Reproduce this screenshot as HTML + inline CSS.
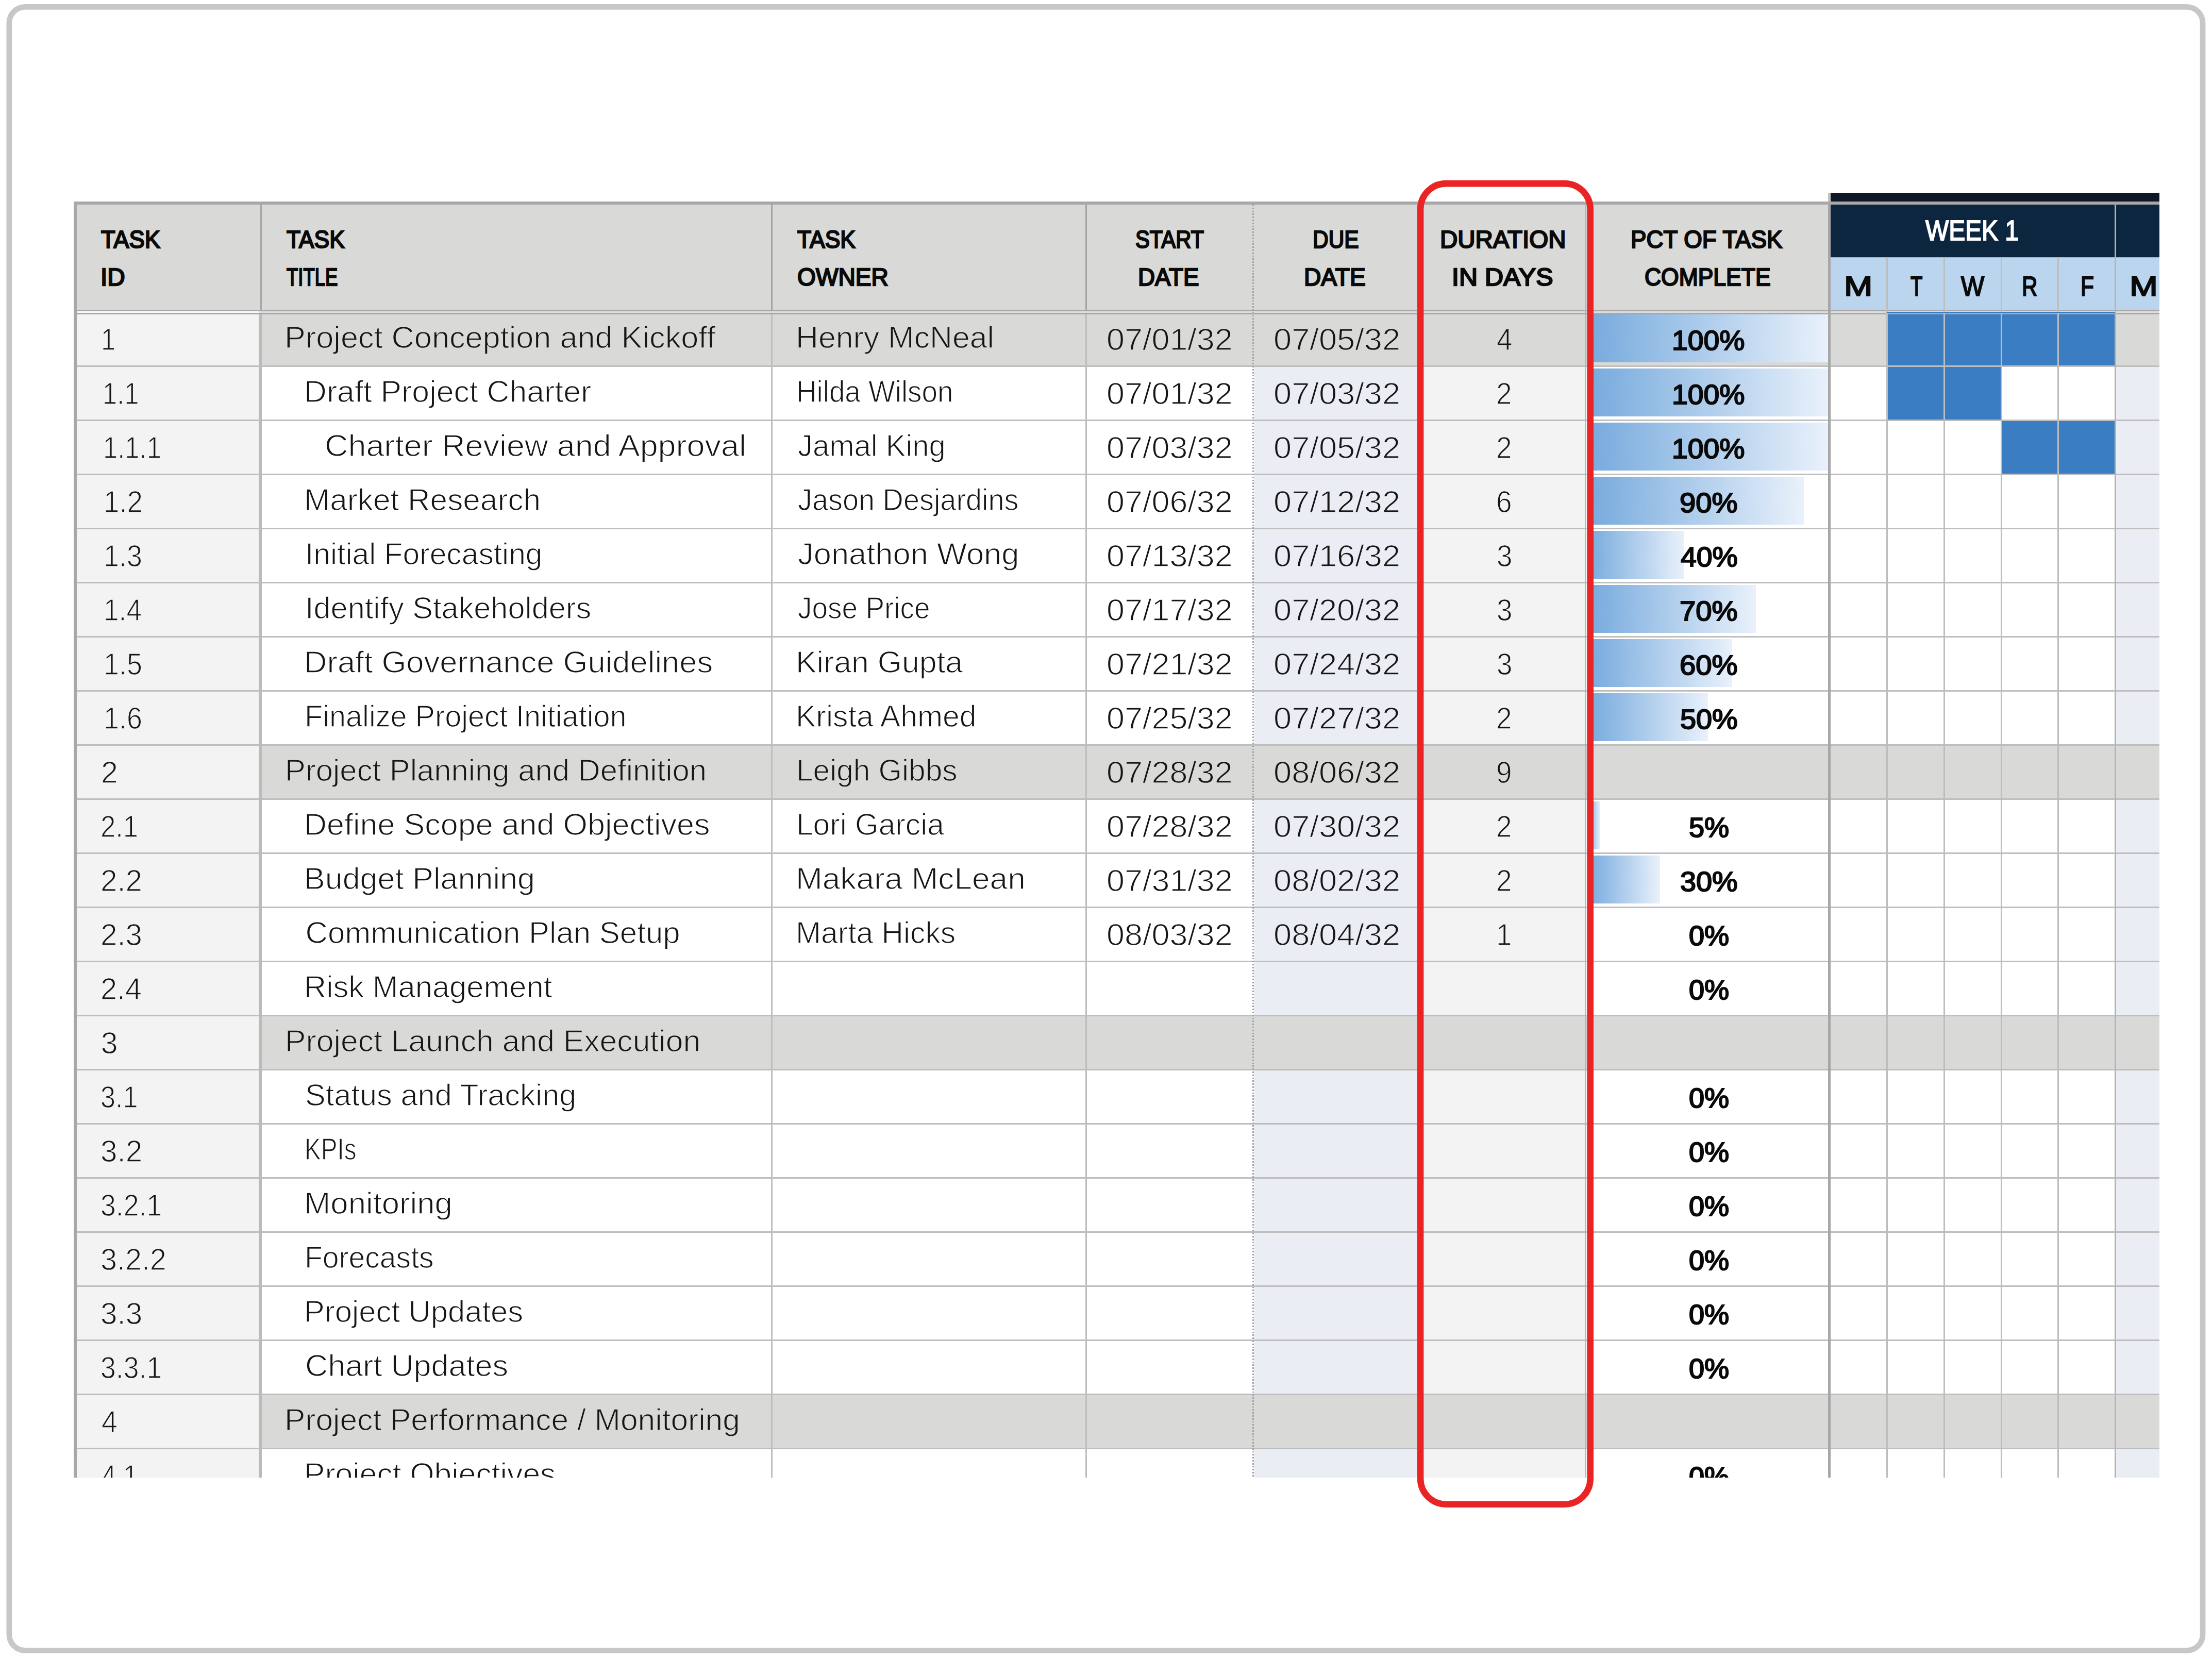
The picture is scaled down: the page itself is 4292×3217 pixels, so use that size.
<!DOCTYPE html>
<html lang="en"><head><meta charset="utf-8"><title>Gantt chart – Duration in days</title>
<style>
html,body{margin:0;padding:0;background:#fff}
body{width:4292px;height:3217px;position:relative;overflow:hidden;font-family:"Liberation Sans",sans-serif}
.clip{position:absolute;left:143.4px;top:374.2px;width:4046.9px;height:2493.0px;overflow:hidden}
.clip i{position:absolute;display:block}
.clip span{position:absolute;white-space:nowrap;transform-origin:0 0;line-height:1}
.ov{position:absolute;left:0;top:0;display:block}
</style></head><body>
<svg class="ov" width="4292" height="3217" viewBox="0 0 4292 3217"><rect x="17.85" y="13.45" width="4256.2" height="3189" rx="31" ry="31" fill="none" stroke="#c8c7c5" stroke-width="10.7"/></svg>
<div class="clip">
<i style="left:6.0px;top:23.2px;width:3397.6px;height:204.6px;background:#d9d9d8"></i>
<i style="left:3408.9px;top:0.0px;width:638.0px;height:17.0px;background:#0f1726"></i>
<i style="left:3408.9px;top:23.1px;width:638.0px;height:102.3px;background:#0d2640"></i>
<i style="left:3408.9px;top:125.4px;width:638.0px;height:102.4px;background:#bbd5ef"></i>
<i style="left:6.0px;top:235.3px;width:352.9px;height:100.4px;background:#f3f3f3"></i>
<i style="left:364.4px;top:235.3px;width:3682.5px;height:100.4px;background:#d9d9d8"></i>
<i style="left:6.0px;top:335.7px;width:352.9px;height:105.0px;background:#f3f3f3"></i>
<i style="left:2289.3px;top:335.7px;width:324.8px;height:105.0px;background:#eaedf3"></i>
<i style="left:2614.1px;top:335.7px;width:320.8px;height:105.0px;background:#f3f3f3"></i>
<i style="left:3961.4px;top:335.7px;width:85.5px;height:105.0px;background:#eaedf3"></i>
<i style="left:6.0px;top:440.7px;width:352.9px;height:105.0px;background:#f3f3f3"></i>
<i style="left:2289.3px;top:440.7px;width:324.8px;height:105.0px;background:#eaedf3"></i>
<i style="left:2614.1px;top:440.7px;width:320.8px;height:105.0px;background:#f3f3f3"></i>
<i style="left:3961.4px;top:440.7px;width:85.5px;height:105.0px;background:#eaedf3"></i>
<i style="left:6.0px;top:545.7px;width:352.9px;height:105.0px;background:#f3f3f3"></i>
<i style="left:2289.3px;top:545.7px;width:324.8px;height:105.0px;background:#eaedf3"></i>
<i style="left:2614.1px;top:545.7px;width:320.8px;height:105.0px;background:#f3f3f3"></i>
<i style="left:3961.4px;top:545.7px;width:85.5px;height:105.0px;background:#eaedf3"></i>
<i style="left:6.0px;top:650.7px;width:352.9px;height:105.0px;background:#f3f3f3"></i>
<i style="left:2289.3px;top:650.7px;width:324.8px;height:105.0px;background:#eaedf3"></i>
<i style="left:2614.1px;top:650.7px;width:320.8px;height:105.0px;background:#f3f3f3"></i>
<i style="left:3961.4px;top:650.7px;width:85.5px;height:105.0px;background:#eaedf3"></i>
<i style="left:6.0px;top:755.7px;width:352.9px;height:105.0px;background:#f3f3f3"></i>
<i style="left:2289.3px;top:755.7px;width:324.8px;height:105.0px;background:#eaedf3"></i>
<i style="left:2614.1px;top:755.7px;width:320.8px;height:105.0px;background:#f3f3f3"></i>
<i style="left:3961.4px;top:755.7px;width:85.5px;height:105.0px;background:#eaedf3"></i>
<i style="left:6.0px;top:860.7px;width:352.9px;height:105.0px;background:#f3f3f3"></i>
<i style="left:2289.3px;top:860.7px;width:324.8px;height:105.0px;background:#eaedf3"></i>
<i style="left:2614.1px;top:860.7px;width:320.8px;height:105.0px;background:#f3f3f3"></i>
<i style="left:3961.4px;top:860.7px;width:85.5px;height:105.0px;background:#eaedf3"></i>
<i style="left:6.0px;top:965.7px;width:352.9px;height:105.0px;background:#f3f3f3"></i>
<i style="left:2289.3px;top:965.7px;width:324.8px;height:105.0px;background:#eaedf3"></i>
<i style="left:2614.1px;top:965.7px;width:320.8px;height:105.0px;background:#f3f3f3"></i>
<i style="left:3961.4px;top:965.7px;width:85.5px;height:105.0px;background:#eaedf3"></i>
<i style="left:6.0px;top:1070.7px;width:352.9px;height:105.0px;background:#f3f3f3"></i>
<i style="left:364.4px;top:1070.7px;width:3682.5px;height:105.0px;background:#d9d9d8"></i>
<i style="left:6.0px;top:1175.7px;width:352.9px;height:105.0px;background:#f3f3f3"></i>
<i style="left:2289.3px;top:1175.7px;width:324.8px;height:105.0px;background:#eaedf3"></i>
<i style="left:2614.1px;top:1175.7px;width:320.8px;height:105.0px;background:#f3f3f3"></i>
<i style="left:3961.4px;top:1175.7px;width:85.5px;height:105.0px;background:#eaedf3"></i>
<i style="left:6.0px;top:1280.7px;width:352.9px;height:105.0px;background:#f3f3f3"></i>
<i style="left:2289.3px;top:1280.7px;width:324.8px;height:105.0px;background:#eaedf3"></i>
<i style="left:2614.1px;top:1280.7px;width:320.8px;height:105.0px;background:#f3f3f3"></i>
<i style="left:3961.4px;top:1280.7px;width:85.5px;height:105.0px;background:#eaedf3"></i>
<i style="left:6.0px;top:1385.7px;width:352.9px;height:105.0px;background:#f3f3f3"></i>
<i style="left:2289.3px;top:1385.7px;width:324.8px;height:105.0px;background:#eaedf3"></i>
<i style="left:2614.1px;top:1385.7px;width:320.8px;height:105.0px;background:#f3f3f3"></i>
<i style="left:3961.4px;top:1385.7px;width:85.5px;height:105.0px;background:#eaedf3"></i>
<i style="left:6.0px;top:1490.7px;width:352.9px;height:105.0px;background:#f3f3f3"></i>
<i style="left:2289.3px;top:1490.7px;width:324.8px;height:105.0px;background:#eaedf3"></i>
<i style="left:2614.1px;top:1490.7px;width:320.8px;height:105.0px;background:#f3f3f3"></i>
<i style="left:3961.4px;top:1490.7px;width:85.5px;height:105.0px;background:#eaedf3"></i>
<i style="left:6.0px;top:1595.7px;width:352.9px;height:105.0px;background:#f3f3f3"></i>
<i style="left:364.4px;top:1595.7px;width:3682.5px;height:105.0px;background:#d9d9d8"></i>
<i style="left:6.0px;top:1700.7px;width:352.9px;height:105.0px;background:#f3f3f3"></i>
<i style="left:2289.3px;top:1700.7px;width:324.8px;height:105.0px;background:#eaedf3"></i>
<i style="left:2614.1px;top:1700.7px;width:320.8px;height:105.0px;background:#f3f3f3"></i>
<i style="left:3961.4px;top:1700.7px;width:85.5px;height:105.0px;background:#eaedf3"></i>
<i style="left:6.0px;top:1805.7px;width:352.9px;height:105.0px;background:#f3f3f3"></i>
<i style="left:2289.3px;top:1805.7px;width:324.8px;height:105.0px;background:#eaedf3"></i>
<i style="left:2614.1px;top:1805.7px;width:320.8px;height:105.0px;background:#f3f3f3"></i>
<i style="left:3961.4px;top:1805.7px;width:85.5px;height:105.0px;background:#eaedf3"></i>
<i style="left:6.0px;top:1910.7px;width:352.9px;height:105.0px;background:#f3f3f3"></i>
<i style="left:2289.3px;top:1910.7px;width:324.8px;height:105.0px;background:#eaedf3"></i>
<i style="left:2614.1px;top:1910.7px;width:320.8px;height:105.0px;background:#f3f3f3"></i>
<i style="left:3961.4px;top:1910.7px;width:85.5px;height:105.0px;background:#eaedf3"></i>
<i style="left:6.0px;top:2015.7px;width:352.9px;height:105.0px;background:#f3f3f3"></i>
<i style="left:2289.3px;top:2015.7px;width:324.8px;height:105.0px;background:#eaedf3"></i>
<i style="left:2614.1px;top:2015.7px;width:320.8px;height:105.0px;background:#f3f3f3"></i>
<i style="left:3961.4px;top:2015.7px;width:85.5px;height:105.0px;background:#eaedf3"></i>
<i style="left:6.0px;top:2120.7px;width:352.9px;height:105.0px;background:#f3f3f3"></i>
<i style="left:2289.3px;top:2120.7px;width:324.8px;height:105.0px;background:#eaedf3"></i>
<i style="left:2614.1px;top:2120.7px;width:320.8px;height:105.0px;background:#f3f3f3"></i>
<i style="left:3961.4px;top:2120.7px;width:85.5px;height:105.0px;background:#eaedf3"></i>
<i style="left:6.0px;top:2225.7px;width:352.9px;height:105.0px;background:#f3f3f3"></i>
<i style="left:2289.3px;top:2225.7px;width:324.8px;height:105.0px;background:#eaedf3"></i>
<i style="left:2614.1px;top:2225.7px;width:320.8px;height:105.0px;background:#f3f3f3"></i>
<i style="left:3961.4px;top:2225.7px;width:85.5px;height:105.0px;background:#eaedf3"></i>
<i style="left:6.0px;top:2330.7px;width:352.9px;height:105.0px;background:#f3f3f3"></i>
<i style="left:364.4px;top:2330.7px;width:3682.5px;height:105.0px;background:#d9d9d8"></i>
<i style="left:6.0px;top:2435.7px;width:352.9px;height:105.0px;background:#f3f3f3"></i>
<i style="left:2289.3px;top:2435.7px;width:324.8px;height:105.0px;background:#eaedf3"></i>
<i style="left:2614.1px;top:2435.7px;width:320.8px;height:105.0px;background:#f3f3f3"></i>
<i style="left:3961.4px;top:2435.7px;width:85.5px;height:105.0px;background:#eaedf3"></i>
<i style="left:6.0px;top:229.8px;width:352.9px;height:3.2px;background:#fafafa"></i>
<i style="left:358.9px;top:229.8px;width:3688.0px;height:3.2px;background:#dddddc"></i>
<i style="left:2938.6px;top:236.0px;width:465.0px;height:92.9px;background:linear-gradient(to right,#76aadd,#e9f1fb)"></i>
<i style="left:2938.6px;top:341.0px;width:465.0px;height:92.9px;background:linear-gradient(to right,#76aadd,#e9f1fb)"></i>
<i style="left:2938.6px;top:446.0px;width:465.0px;height:92.9px;background:linear-gradient(to right,#76aadd,#e9f1fb)"></i>
<i style="left:2938.6px;top:551.0px;width:418.5px;height:92.9px;background:linear-gradient(to right,#76aadd,#e9f1fb)"></i>
<i style="left:2938.6px;top:656.0px;width:186.0px;height:92.9px;background:linear-gradient(to right,#76aadd,#e9f1fb)"></i>
<i style="left:2938.6px;top:761.0px;width:325.5px;height:92.9px;background:linear-gradient(to right,#76aadd,#e9f1fb)"></i>
<i style="left:2938.6px;top:866.0px;width:279.0px;height:92.9px;background:linear-gradient(to right,#76aadd,#e9f1fb)"></i>
<i style="left:2938.6px;top:971.0px;width:232.5px;height:92.9px;background:linear-gradient(to right,#76aadd,#e9f1fb)"></i>
<i style="left:2938.6px;top:1181.0px;width:23.2px;height:92.9px;background:linear-gradient(to right,#76aadd,#e9f1fb)"></i>
<i style="left:2938.6px;top:1286.0px;width:139.5px;height:92.9px;background:linear-gradient(to right,#76aadd,#e9f1fb)"></i>
<i style="left:3519.6px;top:235.6px;width:108.2px;height:99.2px;background:#3b7dc3"></i>
<i style="left:3630.2px;top:235.6px;width:108.4px;height:99.2px;background:#3b7dc3"></i>
<i style="left:3741.0px;top:235.6px;width:108.3px;height:99.2px;background:#3b7dc3"></i>
<i style="left:3851.7px;top:235.6px;width:108.5px;height:99.2px;background:#3b7dc3"></i>
<i style="left:3519.6px;top:337.5px;width:108.2px;height:102.3px;background:#3b7dc3"></i>
<i style="left:3630.2px;top:337.5px;width:108.4px;height:102.3px;background:#3b7dc3"></i>
<i style="left:3741.0px;top:442.5px;width:108.3px;height:102.3px;background:#3b7dc3"></i>
<i style="left:3851.7px;top:442.5px;width:108.5px;height:102.3px;background:#3b7dc3"></i>
<i style="left:6.0px;top:334.8px;width:4040.9px;height:2.8px;background:#bebebe"></i>
<i style="left:6.0px;top:439.8px;width:4040.9px;height:2.8px;background:#bebebe"></i>
<i style="left:6.0px;top:544.8px;width:4040.9px;height:2.8px;background:#bebebe"></i>
<i style="left:6.0px;top:649.9px;width:4040.9px;height:2.8px;background:#bebebe"></i>
<i style="left:6.0px;top:754.9px;width:4040.9px;height:2.8px;background:#bebebe"></i>
<i style="left:6.0px;top:859.9px;width:4040.9px;height:2.8px;background:#bebebe"></i>
<i style="left:6.0px;top:964.9px;width:4040.9px;height:2.8px;background:#bebebe"></i>
<i style="left:6.0px;top:1069.9px;width:4040.9px;height:2.8px;background:#bebebe"></i>
<i style="left:6.0px;top:1174.9px;width:4040.9px;height:2.8px;background:#bebebe"></i>
<i style="left:6.0px;top:1279.9px;width:4040.9px;height:2.8px;background:#bebebe"></i>
<i style="left:6.0px;top:1384.9px;width:4040.9px;height:2.8px;background:#bebebe"></i>
<i style="left:6.0px;top:1489.9px;width:4040.9px;height:2.8px;background:#bebebe"></i>
<i style="left:6.0px;top:1594.9px;width:4040.9px;height:2.8px;background:#bebebe"></i>
<i style="left:6.0px;top:1699.9px;width:4040.9px;height:2.8px;background:#bebebe"></i>
<i style="left:6.0px;top:1804.9px;width:4040.9px;height:2.8px;background:#bebebe"></i>
<i style="left:6.0px;top:1909.9px;width:4040.9px;height:2.8px;background:#bebebe"></i>
<i style="left:6.0px;top:2014.9px;width:4040.9px;height:2.8px;background:#bebebe"></i>
<i style="left:6.0px;top:2119.9px;width:4040.9px;height:2.8px;background:#bebebe"></i>
<i style="left:6.0px;top:2224.9px;width:4040.9px;height:2.8px;background:#bebebe"></i>
<i style="left:6.0px;top:2329.9px;width:4040.9px;height:2.8px;background:#bebebe"></i>
<i style="left:6.0px;top:2434.9px;width:4040.9px;height:2.8px;background:#bebebe"></i>
<i style="left:6.0px;top:2539.9px;width:4040.9px;height:2.8px;background:#bebebe"></i>
<i style="left:6.0px;top:227.0px;width:4040.9px;height:2.8px;background:#a9a7a8"></i>
<i style="left:6.0px;top:233.0px;width:4040.9px;height:2.6px;background:#a9a7a8"></i>
<i style="left:361.7px;top:23.2px;width:2.7px;height:204.6px;background:#a9a7a8"></i>
<i style="left:358.9px;top:235.6px;width:5.5px;height:2257.4px;background:#bbbbbb"></i>
<i style="left:1353.1px;top:23.2px;width:2.4px;height:204.6px;background:#a5a4a4"></i>
<i style="left:1352.9px;top:235.6px;width:2.8px;height:2257.4px;background:#bebebe"></i>
<i style="left:1962.9px;top:23.2px;width:2.4px;height:204.6px;background:#a5a4a4"></i>
<i style="left:1962.7px;top:235.6px;width:2.8px;height:2257.4px;background:#bebebe"></i>
<i style="left:2286.6px;top:23.2px;width:2.7px;height:2469.8px;background:repeating-linear-gradient(to bottom,#a3a3a3 0,#a3a3a3 2.8px,transparent 2.8px,transparent 5.8px)"></i>
<i style="left:2612.1px;top:23.2px;width:2.0px;height:2469.8px;background:#bebebe"></i>
<i style="left:2932.4px;top:23.2px;width:2.4px;height:2469.8px;background:#b0b0b0"></i>
<i style="left:3403.6px;top:0.0px;width:5.3px;height:17.3px;background:#c4c3c2"></i>
<i style="left:3403.6px;top:17.3px;width:5.3px;height:2475.7px;background:#a8a7a7"></i>
<i style="left:3517.0px;top:126.8px;width:2.8px;height:2366.2px;background:#bdbdbd"></i>
<i style="left:3627.6px;top:126.8px;width:2.8px;height:2366.2px;background:#bdbdbd"></i>
<i style="left:3738.4px;top:126.8px;width:2.8px;height:2366.2px;background:#bdbdbd"></i>
<i style="left:3849.1px;top:126.8px;width:2.8px;height:2366.2px;background:#bdbdbd"></i>
<i style="left:3959.9px;top:23.1px;width:3.0px;height:2469.9px;background:#b4b4b4"></i>
<i style="left:3517.4px;top:230.4px;width:443.2px;height:2.4px;background:#3b7dc3"></i>
<i style="left:3408.9px;top:125.0px;width:638.0px;height:2.0px;background:#a9b4c0"></i>
<i style="left:0.0px;top:17.2px;width:4046.9px;height:6.0px;background:#a9a7a8"></i>
<i style="left:0.0px;top:17.2px;width:6.0px;height:2475.8px;background:#a9a7a8"></i>
<span style="left:52.6px;top:67.0px;font-size:47.4px;color:#0a0a0a;transform:scaleX(0.9561);-webkit-text-stroke:2.50px #0a0a0a">TASK</span>
<span style="left:51.8px;top:140.1px;font-size:47.4px;color:#0a0a0a;transform:scaleX(1.0055);-webkit-text-stroke:2.50px #0a0a0a">ID</span>
<span style="left:413.0px;top:67.0px;font-size:47.4px;color:#0a0a0a;transform:scaleX(0.9380);-webkit-text-stroke:2.50px #0a0a0a">TASK</span>
<span style="left:412.9px;top:140.1px;font-size:47.4px;color:#0a0a0a;transform:scaleX(0.7693);-webkit-text-stroke:2.50px #0a0a0a">TITLE</span>
<span style="left:1403.8px;top:67.0px;font-size:47.4px;color:#0a0a0a;transform:scaleX(0.9405);-webkit-text-stroke:2.50px #0a0a0a">TASK</span>
<span style="left:1403.4px;top:140.1px;font-size:47.4px;color:#0a0a0a;transform:scaleX(0.9733);-webkit-text-stroke:2.50px #0a0a0a">OWNER</span>
<span style="left:2059.4px;top:67.0px;font-size:47.4px;color:#0a0a0a;transform:scaleX(0.8816);-webkit-text-stroke:2.50px #0a0a0a">START</span>
<span style="left:2064.7px;top:140.1px;font-size:47.4px;color:#0a0a0a;transform:scaleX(0.9640);-webkit-text-stroke:2.50px #0a0a0a">DATE</span>
<span style="left:2403.6px;top:67.0px;font-size:47.4px;color:#0a0a0a;transform:scaleX(0.8959);-webkit-text-stroke:2.50px #0a0a0a">DUE</span>
<span style="left:2387.1px;top:140.1px;font-size:47.4px;color:#0a0a0a;transform:scaleX(0.9741);-webkit-text-stroke:2.50px #0a0a0a">DATE</span>
<span style="left:2651.0px;top:67.0px;font-size:47.4px;color:#0a0a0a;transform:scaleX(1.0019);-webkit-text-stroke:2.50px #0a0a0a">DURATION</span>
<span style="left:2674.0px;top:140.1px;font-size:47.4px;color:#0a0a0a;transform:scaleX(1.0561);-webkit-text-stroke:2.50px #0a0a0a">IN DAYS</span>
<span style="left:3020.2px;top:67.0px;font-size:47.4px;color:#0a0a0a;transform:scaleX(0.9642);-webkit-text-stroke:2.50px #0a0a0a">PCT OF TASK</span>
<span style="left:3047.7px;top:140.1px;font-size:47.4px;color:#0a0a0a;transform:scaleX(0.9381);-webkit-text-stroke:2.50px #0a0a0a">COMPLETE</span>
<span style="left:3592.5px;top:45.0px;font-size:56.0px;color:#ffffff;transform:scaleX(0.8541);-webkit-text-stroke:2.00px #ffffff">WEEK 1</span>
<span style="left:3434.4px;top:153.8px;font-size:54.0px;color:#0a0a0a;transform:scaleX(1.2308);-webkit-text-stroke:2.20px #0a0a0a">M</span>
<span style="left:3563.4px;top:153.8px;font-size:54.0px;color:#0a0a0a;transform:scaleX(0.7062);-webkit-text-stroke:2.20px #0a0a0a">T</span>
<span style="left:3661.8px;top:153.8px;font-size:54.0px;color:#0a0a0a;transform:scaleX(0.8832);-webkit-text-stroke:2.20px #0a0a0a">W</span>
<span style="left:3779.9px;top:153.8px;font-size:54.0px;color:#0a0a0a;transform:scaleX(0.7776);-webkit-text-stroke:2.20px #0a0a0a">R</span>
<span style="left:3893.3px;top:153.8px;font-size:54.0px;color:#0a0a0a;transform:scaleX(0.7842);-webkit-text-stroke:2.20px #0a0a0a">F</span>
<span style="left:3988.5px;top:153.8px;font-size:54.0px;color:#0a0a0a;transform:scaleX(1.2181);-webkit-text-stroke:2.20px #0a0a0a">M</span>
<span style="left:52.8px;top:256.0px;font-size:59.0px;color:#161616;transform:scaleX(0.8600);-webkit-text-stroke:1.35px #f3f3f3">1</span>
<span style="left:408.9px;top:250.9px;font-size:60.0px;color:#161616;transform:scaleX(1.0206);-webkit-text-stroke:1.35px #d9d9d8">Project Conception and Kickoff</span>
<span style="left:1401.0px;top:250.9px;font-size:60.0px;color:#161616;transform:scaleX(1.0130);-webkit-text-stroke:1.35px #d9d9d8">Henry McNeal</span>
<span style="left:2003.5px;top:256.0px;font-size:59.0px;color:#161616;transform:scaleX(1.0657);-webkit-text-stroke:1.35px #d9d9d8">07/01/32</span>
<span style="left:2327.4px;top:256.0px;font-size:59.0px;color:#161616;transform:scaleX(1.0715);-webkit-text-stroke:1.35px #d9d9d8">07/05/32</span>
<span style="left:2760.4px;top:256.0px;font-size:59.0px;color:#161616;transform:scaleX(0.9300);-webkit-text-stroke:1.35px #d9d9d8">4</span>
<span style="left:3101.0px;top:259.4px;font-size:53.4px;color:#0a0a0a;transform:scaleX(1.0348);-webkit-text-stroke:2.20px #0a0a0a">100%</span>
<span style="left:55.2px;top:361.0px;font-size:59.0px;color:#161616;transform:scaleX(0.8600);-webkit-text-stroke:1.35px #f3f3f3">1.1</span>
<span style="left:446.9px;top:355.9px;font-size:60.0px;color:#161616;transform:scaleX(1.0128);-webkit-text-stroke:1.35px #ffffff">Draft Project Charter</span>
<span style="left:1401.5px;top:355.9px;font-size:60.0px;color:#161616;transform:scaleX(0.9129);-webkit-text-stroke:1.35px #ffffff">Hilda Wilson</span>
<span style="left:2003.5px;top:361.0px;font-size:59.0px;color:#161616;transform:scaleX(1.0657);-webkit-text-stroke:1.35px #ffffff">07/01/32</span>
<span style="left:2327.4px;top:361.0px;font-size:59.0px;color:#161616;transform:scaleX(1.0715);-webkit-text-stroke:1.35px #eaedf3">07/03/32</span>
<span style="left:2760.0px;top:361.0px;font-size:59.0px;color:#161616;transform:scaleX(0.9300);-webkit-text-stroke:1.35px #f3f3f3">2</span>
<span style="left:3101.0px;top:364.4px;font-size:53.4px;color:#0a0a0a;transform:scaleX(1.0348);-webkit-text-stroke:2.20px #0a0a0a">100%</span>
<span style="left:57.0px;top:466.0px;font-size:59.0px;color:#161616;transform:scaleX(0.8600);-webkit-text-stroke:1.35px #f3f3f3">1.1.1</span>
<span style="left:486.6px;top:460.9px;font-size:60.0px;color:#161616;transform:scaleX(1.0480);-webkit-text-stroke:1.35px #ffffff">Charter Review and Approval</span>
<span style="left:1404.8px;top:460.9px;font-size:60.0px;color:#161616;transform:scaleX(0.9662);-webkit-text-stroke:1.35px #ffffff">Jamal King</span>
<span style="left:2003.5px;top:466.0px;font-size:59.0px;color:#161616;transform:scaleX(1.0657);-webkit-text-stroke:1.35px #ffffff">07/03/32</span>
<span style="left:2327.4px;top:466.0px;font-size:59.0px;color:#161616;transform:scaleX(1.0715);-webkit-text-stroke:1.35px #eaedf3">07/05/32</span>
<span style="left:2760.0px;top:466.0px;font-size:59.0px;color:#161616;transform:scaleX(0.9300);-webkit-text-stroke:1.35px #f3f3f3">2</span>
<span style="left:3101.0px;top:469.4px;font-size:53.4px;color:#0a0a0a;transform:scaleX(1.0348);-webkit-text-stroke:2.20px #0a0a0a">100%</span>
<span style="left:57.5px;top:571.0px;font-size:59.0px;color:#161616;transform:scaleX(0.9264);-webkit-text-stroke:1.35px #f3f3f3">1.2</span>
<span style="left:446.9px;top:565.9px;font-size:60.0px;color:#161616;transform:scaleX(1.0051);-webkit-text-stroke:1.35px #ffffff">Market Research</span>
<span style="left:1404.9px;top:565.9px;font-size:60.0px;color:#161616;transform:scaleX(0.9310);-webkit-text-stroke:1.35px #ffffff">Jason Desjardins</span>
<span style="left:2003.5px;top:571.0px;font-size:59.0px;color:#161616;transform:scaleX(1.0657);-webkit-text-stroke:1.35px #ffffff">07/06/32</span>
<span style="left:2327.4px;top:571.0px;font-size:59.0px;color:#161616;transform:scaleX(1.0715);-webkit-text-stroke:1.35px #eaedf3">07/12/32</span>
<span style="left:2760.0px;top:571.0px;font-size:59.0px;color:#161616;transform:scaleX(0.9300);-webkit-text-stroke:1.35px #f3f3f3">6</span>
<span style="left:3115.8px;top:574.4px;font-size:53.4px;color:#0a0a0a;transform:scaleX(1.0535);-webkit-text-stroke:2.20px #0a0a0a">90%</span>
<span style="left:57.5px;top:676.0px;font-size:59.0px;color:#161616;transform:scaleX(0.9130);-webkit-text-stroke:1.35px #f3f3f3">1.3</span>
<span style="left:448.9px;top:670.9px;font-size:60.0px;color:#161616;transform:scaleX(0.9794);-webkit-text-stroke:1.35px #ffffff">Initial Forecasting</span>
<span style="left:1404.7px;top:670.9px;font-size:60.0px;color:#161616;transform:scaleX(1.0245);-webkit-text-stroke:1.35px #ffffff">Jonathon Wong</span>
<span style="left:2003.5px;top:676.0px;font-size:59.0px;color:#161616;transform:scaleX(1.0657);-webkit-text-stroke:1.35px #ffffff">07/13/32</span>
<span style="left:2327.4px;top:676.0px;font-size:59.0px;color:#161616;transform:scaleX(1.0715);-webkit-text-stroke:1.35px #eaedf3">07/16/32</span>
<span style="left:2760.4px;top:676.0px;font-size:59.0px;color:#161616;transform:scaleX(0.9300);-webkit-text-stroke:1.35px #f3f3f3">3</span>
<span style="left:3117.6px;top:679.4px;font-size:53.4px;color:#0a0a0a;transform:scaleX(1.0370);-webkit-text-stroke:2.20px #0a0a0a">40%</span>
<span style="left:57.6px;top:781.0px;font-size:59.0px;color:#161616;transform:scaleX(0.9019);-webkit-text-stroke:1.35px #f3f3f3">1.4</span>
<span style="left:448.9px;top:775.9px;font-size:60.0px;color:#161616;transform:scaleX(0.9911);-webkit-text-stroke:1.35px #ffffff">Identify Stakeholders</span>
<span style="left:1404.9px;top:775.9px;font-size:60.0px;color:#161616;transform:scaleX(0.9162);-webkit-text-stroke:1.35px #ffffff">Jose Price</span>
<span style="left:2003.5px;top:781.0px;font-size:59.0px;color:#161616;transform:scaleX(1.0657);-webkit-text-stroke:1.35px #ffffff">07/17/32</span>
<span style="left:2327.4px;top:781.0px;font-size:59.0px;color:#161616;transform:scaleX(1.0715);-webkit-text-stroke:1.35px #eaedf3">07/20/32</span>
<span style="left:2760.4px;top:781.0px;font-size:59.0px;color:#161616;transform:scaleX(0.9300);-webkit-text-stroke:1.35px #f3f3f3">3</span>
<span style="left:3115.8px;top:784.4px;font-size:53.4px;color:#0a0a0a;transform:scaleX(1.0535);-webkit-text-stroke:2.20px #0a0a0a">70%</span>
<span style="left:57.5px;top:886.0px;font-size:59.0px;color:#161616;transform:scaleX(0.9130);-webkit-text-stroke:1.35px #f3f3f3">1.5</span>
<span style="left:446.9px;top:880.9px;font-size:60.0px;color:#161616;transform:scaleX(1.0252);-webkit-text-stroke:1.35px #ffffff">Draft Governance Guidelines</span>
<span style="left:1401.0px;top:880.9px;font-size:60.0px;color:#161616;transform:scaleX(1.0123);-webkit-text-stroke:1.35px #ffffff">Kiran Gupta</span>
<span style="left:2003.5px;top:886.0px;font-size:59.0px;color:#161616;transform:scaleX(1.0657);-webkit-text-stroke:1.35px #ffffff">07/21/32</span>
<span style="left:2327.4px;top:886.0px;font-size:59.0px;color:#161616;transform:scaleX(1.0715);-webkit-text-stroke:1.35px #eaedf3">07/24/32</span>
<span style="left:2760.4px;top:886.0px;font-size:59.0px;color:#161616;transform:scaleX(0.9300);-webkit-text-stroke:1.35px #f3f3f3">3</span>
<span style="left:3115.8px;top:889.4px;font-size:53.4px;color:#0a0a0a;transform:scaleX(1.0535);-webkit-text-stroke:2.20px #0a0a0a">60%</span>
<span style="left:57.5px;top:991.0px;font-size:59.0px;color:#161616;transform:scaleX(0.9130);-webkit-text-stroke:1.35px #f3f3f3">1.6</span>
<span style="left:447.7px;top:985.9px;font-size:60.0px;color:#161616;transform:scaleX(0.9604);-webkit-text-stroke:1.35px #ffffff">Finalize Project Initiation</span>
<span style="left:1401.1px;top:985.9px;font-size:60.0px;color:#161616;transform:scaleX(0.9825);-webkit-text-stroke:1.35px #ffffff">Krista Ahmed</span>
<span style="left:2003.5px;top:991.0px;font-size:59.0px;color:#161616;transform:scaleX(1.0657);-webkit-text-stroke:1.35px #ffffff">07/25/32</span>
<span style="left:2327.4px;top:991.0px;font-size:59.0px;color:#161616;transform:scaleX(1.0715);-webkit-text-stroke:1.35px #eaedf3">07/27/32</span>
<span style="left:2760.0px;top:991.0px;font-size:59.0px;color:#161616;transform:scaleX(0.9300);-webkit-text-stroke:1.35px #f3f3f3">2</span>
<span style="left:3116.7px;top:994.4px;font-size:53.4px;color:#0a0a0a;transform:scaleX(1.0452);-webkit-text-stroke:2.20px #0a0a0a">50%</span>
<span style="left:52.5px;top:1096.0px;font-size:59.0px;color:#161616;transform:scaleX(1.0000);-webkit-text-stroke:1.35px #f3f3f3">2</span>
<span style="left:409.3px;top:1090.9px;font-size:60.0px;color:#161616;transform:scaleX(0.9969);-webkit-text-stroke:1.35px #d9d9d8">Project Planning and Definition</span>
<span style="left:1401.2px;top:1090.9px;font-size:60.0px;color:#161616;transform:scaleX(0.9760);-webkit-text-stroke:1.35px #d9d9d8">Leigh Gibbs</span>
<span style="left:2003.5px;top:1096.0px;font-size:59.0px;color:#161616;transform:scaleX(1.0657);-webkit-text-stroke:1.35px #d9d9d8">07/28/32</span>
<span style="left:2327.4px;top:1096.0px;font-size:59.0px;color:#161616;transform:scaleX(1.0715);-webkit-text-stroke:1.35px #d9d9d8">08/06/32</span>
<span style="left:2760.0px;top:1096.0px;font-size:59.0px;color:#161616;transform:scaleX(0.9300);-webkit-text-stroke:1.35px #d9d9d8">9</span>
<span style="left:51.9px;top:1201.0px;font-size:59.0px;color:#161616;transform:scaleX(0.8913);-webkit-text-stroke:1.35px #f3f3f3">2.1</span>
<span style="left:446.9px;top:1195.9px;font-size:60.0px;color:#161616;transform:scaleX(1.0177);-webkit-text-stroke:1.35px #ffffff">Define Scope and Objectives</span>
<span style="left:1401.2px;top:1195.9px;font-size:60.0px;color:#161616;transform:scaleX(0.9775);-webkit-text-stroke:1.35px #ffffff">Lori Garcia</span>
<span style="left:2003.5px;top:1201.0px;font-size:59.0px;color:#161616;transform:scaleX(1.0657);-webkit-text-stroke:1.35px #ffffff">07/28/32</span>
<span style="left:2327.4px;top:1201.0px;font-size:59.0px;color:#161616;transform:scaleX(1.0715);-webkit-text-stroke:1.35px #eaedf3">07/30/32</span>
<span style="left:2760.0px;top:1201.0px;font-size:59.0px;color:#161616;transform:scaleX(0.9300);-webkit-text-stroke:1.35px #f3f3f3">2</span>
<span style="left:3133.5px;top:1204.4px;font-size:53.4px;color:#0a0a0a;transform:scaleX(1.0116);-webkit-text-stroke:2.20px #0a0a0a">5%</span>
<span style="left:51.6px;top:1306.0px;font-size:59.0px;color:#161616;transform:scaleX(0.9879);-webkit-text-stroke:1.35px #f3f3f3">2.2</span>
<span style="left:446.9px;top:1300.9px;font-size:60.0px;color:#161616;transform:scaleX(1.0170);-webkit-text-stroke:1.35px #ffffff">Budget Planning</span>
<span style="left:1400.8px;top:1300.9px;font-size:60.0px;color:#161616;transform:scaleX(1.0361);-webkit-text-stroke:1.35px #ffffff">Makara McLean</span>
<span style="left:2003.5px;top:1306.0px;font-size:59.0px;color:#161616;transform:scaleX(1.0657);-webkit-text-stroke:1.35px #ffffff">07/31/32</span>
<span style="left:2327.4px;top:1306.0px;font-size:59.0px;color:#161616;transform:scaleX(1.0715);-webkit-text-stroke:1.35px #eaedf3">08/02/32</span>
<span style="left:2760.0px;top:1306.0px;font-size:59.0px;color:#161616;transform:scaleX(0.9300);-webkit-text-stroke:1.35px #f3f3f3">2</span>
<span style="left:3116.7px;top:1309.4px;font-size:53.4px;color:#0a0a0a;transform:scaleX(1.0452);-webkit-text-stroke:2.20px #0a0a0a">30%</span>
<span style="left:51.6px;top:1411.0px;font-size:59.0px;color:#161616;transform:scaleX(0.9879);-webkit-text-stroke:1.35px #f3f3f3">2.3</span>
<span style="left:449.2px;top:1405.9px;font-size:60.0px;color:#161616;transform:scaleX(1.0000);-webkit-text-stroke:1.35px #ffffff">Communication Plan Setup</span>
<span style="left:1401.1px;top:1405.9px;font-size:60.0px;color:#161616;transform:scaleX(0.9796);-webkit-text-stroke:1.35px #ffffff">Marta Hicks</span>
<span style="left:2003.5px;top:1411.0px;font-size:59.0px;color:#161616;transform:scaleX(1.0657);-webkit-text-stroke:1.35px #ffffff">08/03/32</span>
<span style="left:2327.4px;top:1411.0px;font-size:59.0px;color:#161616;transform:scaleX(1.0715);-webkit-text-stroke:1.35px #eaedf3">08/04/32</span>
<span style="left:2759.5px;top:1411.0px;font-size:59.0px;color:#161616;transform:scaleX(0.9300);-webkit-text-stroke:1.35px #f3f3f3">1</span>
<span style="left:3133.5px;top:1414.4px;font-size:53.4px;color:#0a0a0a;transform:scaleX(1.0116);-webkit-text-stroke:2.20px #0a0a0a">0%</span>
<span style="left:51.6px;top:1516.0px;font-size:59.0px;color:#161616;transform:scaleX(0.9760);-webkit-text-stroke:1.35px #f3f3f3">2.4</span>
<span style="left:447.1px;top:1510.9px;font-size:60.0px;color:#161616;transform:scaleX(0.9954);-webkit-text-stroke:1.35px #ffffff">Risk Management</span>
<span style="left:3133.5px;top:1519.4px;font-size:53.4px;color:#0a0a0a;transform:scaleX(1.0116);-webkit-text-stroke:2.20px #0a0a0a">0%</span>
<span style="left:52.3px;top:1621.0px;font-size:59.0px;color:#161616;transform:scaleX(1.0000);-webkit-text-stroke:1.35px #f3f3f3">3</span>
<span style="left:409.2px;top:1615.9px;font-size:60.0px;color:#161616;transform:scaleX(1.0113);-webkit-text-stroke:1.35px #d9d9d8">Project Launch and Execution</span>
<span style="left:52.0px;top:1726.0px;font-size:59.0px;color:#161616;transform:scaleX(0.8831);-webkit-text-stroke:1.35px #f3f3f3">3.1</span>
<span style="left:448.8px;top:1720.9px;font-size:60.0px;color:#161616;transform:scaleX(0.9926);-webkit-text-stroke:1.35px #ffffff">Status and Tracking</span>
<span style="left:3133.5px;top:1729.4px;font-size:53.4px;color:#0a0a0a;transform:scaleX(1.0116);-webkit-text-stroke:2.20px #0a0a0a">0%</span>
<span style="left:51.7px;top:1831.0px;font-size:59.0px;color:#161616;transform:scaleX(0.9904);-webkit-text-stroke:1.35px #f3f3f3">3.2</span>
<span style="left:448.1px;top:1825.9px;font-size:60.0px;color:#161616;transform:scaleX(0.7938);-webkit-text-stroke:1.35px #ffffff">KPIs</span>
<span style="left:3133.5px;top:1834.4px;font-size:53.4px;color:#0a0a0a;transform:scaleX(1.0116);-webkit-text-stroke:2.20px #0a0a0a">0%</span>
<span style="left:51.9px;top:1936.0px;font-size:59.0px;color:#161616;transform:scaleX(0.9082);-webkit-text-stroke:1.35px #f3f3f3">3.2.1</span>
<span style="left:446.9px;top:1930.9px;font-size:60.0px;color:#161616;transform:scaleX(1.0276);-webkit-text-stroke:1.35px #ffffff">Monitoring</span>
<span style="left:3133.5px;top:1939.4px;font-size:53.4px;color:#0a0a0a;transform:scaleX(1.0116);-webkit-text-stroke:2.20px #0a0a0a">0%</span>
<span style="left:51.7px;top:2041.0px;font-size:59.0px;color:#161616;transform:scaleX(0.9742);-webkit-text-stroke:1.35px #f3f3f3">3.2.2</span>
<span style="left:447.3px;top:2035.9px;font-size:60.0px;color:#161616;transform:scaleX(0.9511);-webkit-text-stroke:1.35px #ffffff">Forecasts</span>
<span style="left:3133.5px;top:2044.4px;font-size:53.4px;color:#0a0a0a;transform:scaleX(1.0116);-webkit-text-stroke:2.20px #0a0a0a">0%</span>
<span style="left:51.7px;top:2146.0px;font-size:59.0px;color:#161616;transform:scaleX(0.9904);-webkit-text-stroke:1.35px #f3f3f3">3.3</span>
<span style="left:447.1px;top:2140.9px;font-size:60.0px;color:#161616;transform:scaleX(0.9960);-webkit-text-stroke:1.35px #ffffff">Project Updates</span>
<span style="left:3133.5px;top:2149.4px;font-size:53.4px;color:#0a0a0a;transform:scaleX(1.0116);-webkit-text-stroke:2.20px #0a0a0a">0%</span>
<span style="left:51.9px;top:2251.0px;font-size:59.0px;color:#161616;transform:scaleX(0.9082);-webkit-text-stroke:1.35px #f3f3f3">3.3.1</span>
<span style="left:448.8px;top:2245.9px;font-size:60.0px;color:#161616;transform:scaleX(1.0186);-webkit-text-stroke:1.35px #ffffff">Chart Updates</span>
<span style="left:3133.5px;top:2254.4px;font-size:53.4px;color:#0a0a0a;transform:scaleX(1.0116);-webkit-text-stroke:2.20px #0a0a0a">0%</span>
<span style="left:53.8px;top:2356.0px;font-size:59.0px;color:#161616;transform:scaleX(0.9425);-webkit-text-stroke:1.35px #f3f3f3">4</span>
<span style="left:409.0px;top:2350.9px;font-size:60.0px;color:#161616;transform:scaleX(1.0078);-webkit-text-stroke:1.35px #d9d9d8">Project Performance / Monitoring</span>
<span style="left:53.9px;top:2461.0px;font-size:59.0px;color:#161616;transform:scaleX(0.8600);-webkit-text-stroke:1.35px #f3f3f3">4.1</span>
<span style="left:447.0px;top:2455.9px;font-size:60.0px;color:#161616;transform:scaleX(1.0101);-webkit-text-stroke:1.35px #ffffff">Project Objectives</span>
<span style="left:3133.5px;top:2464.4px;font-size:53.4px;color:#0a0a0a;transform:scaleX(1.0116);-webkit-text-stroke:2.20px #0a0a0a">0%</span>
</div>
<svg class="ov" width="4292" height="3217" viewBox="0 0 4292 3217"><rect x="2756.1" y="356.1" width="329.6" height="2562.6" rx="49.7" ry="49.7" fill="none" stroke="#ea2425" stroke-width="12.6"/></svg>
</body></html>
